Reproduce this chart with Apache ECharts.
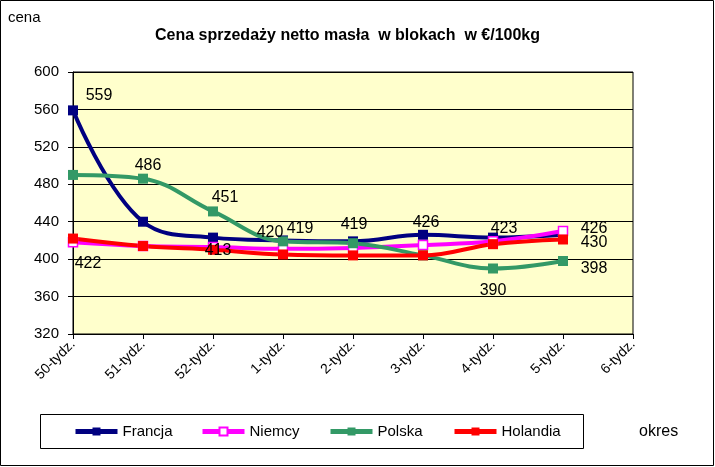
<!DOCTYPE html>
<html>
<head>
<meta charset="utf-8">
<script src="https://cdn.jsdelivr.net/npm/echarts@6/dist/echarts.min.js"></script>
<style>
html,body{margin:0;padding:0;background:#fff;}
#c{width:715px;height:467px;}
</style>
</head>
<body>
<div id="c"></div>
<script>
const categories = ['50-tydz.','51-tydz.','52-tydz.','1-tydz.','2-tydz.','3-tydz.','4-tydz.','5-tydz.','6-tydz.'];
const francja  = [559, 440, 423, 420, 419, 426, 423, 426];
const niemcy   = [418, 414, 413, 411, 412, 415, 419, 430];
const polska   = [490, 486, 451, 419, 417, 404, 390, 398];
const holandia = [422, 414, 410, 405, 404, 404, 416, 421];
const yTicks = [320, 360, 400, 440, 480, 520, 560, 600];

// which points carry a visible value label, and the label offset from the point
const labelsFrancja  = {0: [26, -15], 3: [-13, -8], 4: [1, -17], 5: [3, -12], 6: [11, -9], 7: [31, -6]};
const labelsNiemcy   = {2: [5, 4], 7: [31, 12]};
const labelsPolska   = {1: [5, -13], 2: [12, -14], 3: [17, -13], 6: [0, 22], 7: [31, 8]};
const labelsHolandia = {0: [15, 25]};

const font = 'Liberation Sans, Arial, sans-serif';

function buildData(vals, labels) {
  return vals.map((v, i) => {
    if (labels[i]) {
      return {value: v, label: {show: true, position: 'inside', offset: labels[i],
        color: '#000', fontSize: 16, fontFamily: font}};
    }
    return {value: v, label: {show: false}};
  });
}

function series(name, vals, labels, color, hollow) {
  return {
    name: name, type: 'line', data: buildData(vals, labels),
    smooth: 0.4, symbol: 'rect', symbolSize: hollow ? 9 : 10,
    lineStyle: {color: color, width: 4},
    itemStyle: {color: hollow ? '#fff' : color, borderColor: color, borderWidth: hollow ? 1.5 : 0},
    emphasis: {disabled: true},
    z: 2
  };
}

const chart = echarts.init(document.getElementById('c'), null, {renderer: 'canvas'});
const legendBase = {orient: 'horizontal', top: 424, itemWidth: 42, itemHeight: 10, itemGap: 4,
  lineStyle: {width: 5},
  textStyle: {fontSize: 15, color: '#000', fontFamily: font}, selectedMode: false, padding: 0};

chart.setOption({
  animation: false,
  backgroundColor: '#fff',
  title: {text: 'Cena sprzedaży netto masła  w blokach  w €/100kg', left: 150, top: 23,
    textStyle: {fontSize: 16, fontWeight: 'bold', color: '#000', fontFamily: font}},
  grid: {left: 73, right: 82, top: 72, bottom: 133, show: true, backgroundColor: '#FFFFCC',
    borderColor: '#000', borderWidth: 1},
  legend: [
    Object.assign({}, legendBase, {left: 73, data: ['Francja']}),
    Object.assign({}, legendBase, {left: 200, data: ['Niemcy']}),
    Object.assign({}, legendBase, {left: 328, data: ['Polska']}),
    Object.assign({}, legendBase, {left: 452, data: ['Holandia']})
  ],
  xAxis: {
    type: 'category', data: categories, boundaryGap: false,
    axisLine: {lineStyle: {color: '#000', width: 1}},
    axisTick: {show: true, length: 5, lineStyle: {color: '#000'}},
    axisLabel: {rotate: 45, fontSize: 14, color: '#000', margin: 8, fontFamily: font, interval: 0},
    splitLine: {show: false}
  },
  yAxis: {
    type: 'value', min: yTicks[0], max: yTicks[yTicks.length - 1], interval: yTicks[1] - yTicks[0],
    axisLine: {show: true, lineStyle: {color: '#000', width: 1}},
    axisTick: {show: true, length: 5, lineStyle: {color: '#000'}},
    axisLabel: {fontSize: 15, color: '#000', margin: 14, fontFamily: font},
    splitLine: {show: true, lineStyle: {color: '#000', width: 1}}
  },
  series: [
    series('Francja', francja, labelsFrancja, '#000080', false),
    series('Niemcy', niemcy, labelsNiemcy, '#FF00FF', true),
    series('Polska', polska, labelsPolska, '#339966', false),
    series('Holandia', holandia, labelsHolandia, '#FF0000', false)
  ],
  graphic: [
    {type: 'rect', shape: {x: 0.5, y: 0.5, width: 713, height: 465}, style: {fill: 'none', stroke: '#000', lineWidth: 1}, silent: true, z: -1},
    {type: 'rect', shape: {x: 40.5, y: 414.5, width: 543, height: 34}, style: {fill: 'none', stroke: '#000', lineWidth: 1}, silent: true},
    {type: 'text', left: 8, top: 10, style: {text: 'cena', fontSize: 15, fill: '#000', fontFamily: font}},
    {type: 'text', left: 639, top: 424, style: {text: 'okres', fontSize: 16, fill: '#000', fontFamily: font}}
  ]
});
</script>
</body>
</html>
